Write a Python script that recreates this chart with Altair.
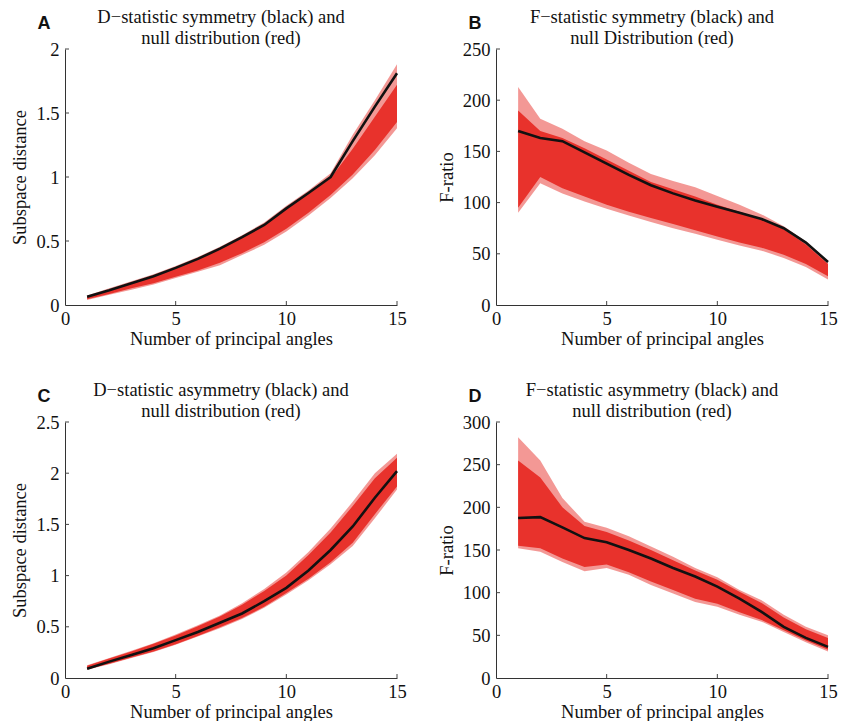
import altair as alt
import pandas as pd

angles = list(range(1, 16))

# Panel A: D-statistic symmetry
A_black = [0.065, 0.115, 0.17, 0.225, 0.29, 0.36, 0.44, 0.53, 0.625, 0.755, 0.875, 1.0, 1.28, 1.55, 1.81]
A_out_hi = [0.075, 0.13, 0.185, 0.24, 0.305, 0.375, 0.455, 0.545, 0.645, 0.775, 0.895, 1.03, 1.33, 1.6, 1.88]
A_out_lo = [0.04, 0.08, 0.12, 0.16, 0.21, 0.26, 0.31, 0.39, 0.47, 0.575, 0.70, 0.835, 0.99, 1.17, 1.38]
A_core_hi = [0.07, 0.12, 0.175, 0.23, 0.295, 0.365, 0.445, 0.535, 0.63, 0.76, 0.87, 0.99, 1.22, 1.47, 1.72]
A_core_lo = [0.045, 0.085, 0.13, 0.17, 0.22, 0.27, 0.33, 0.405, 0.49, 0.595, 0.72, 0.86, 1.02, 1.21, 1.43]

# Panel B: F-statistic symmetry
B_black = [170, 163, 160, 149, 138, 127, 117, 109, 102, 96, 90, 84, 75, 61, 42]
B_out_hi = [213, 182, 172, 160, 151, 139, 128, 121, 115, 106.5, 98, 88.5, 77, 62, 42.6]
B_out_lo = [90, 119, 109, 101, 94, 87.5, 81, 75, 69.5, 63.6, 58, 53, 46, 37, 25]
B_core_hi = [190, 170, 163, 153, 142, 131, 120, 113, 106, 98, 91, 84, 74, 59, 40]
B_core_lo = [95, 125, 114, 106, 98, 91, 85, 79, 73, 67, 61, 56, 49, 40, 28]

# Panel C: D-statistic asymmetry
C_black = [0.09, 0.16, 0.225, 0.29, 0.37, 0.45, 0.54, 0.63, 0.75, 0.88, 1.05, 1.25, 1.48, 1.76, 2.02]
C_out_hi = [0.125, 0.195, 0.265, 0.34, 0.425, 0.515, 0.61, 0.73, 0.87, 1.03, 1.23, 1.46, 1.72, 2.0, 2.19]
C_out_lo = [0.08, 0.135, 0.195, 0.255, 0.325, 0.405, 0.485, 0.575, 0.685, 0.815, 0.955, 1.11, 1.29, 1.56, 1.84]
C_core_hi = [0.12, 0.19, 0.26, 0.335, 0.415, 0.505, 0.6, 0.715, 0.85, 1.0, 1.2, 1.42, 1.68, 1.95, 2.15]
C_core_lo = [0.085, 0.14, 0.2, 0.26, 0.33, 0.41, 0.495, 0.585, 0.695, 0.83, 0.97, 1.13, 1.32, 1.6, 1.87]

# Panel D: F-statistic asymmetry
D_black = [187.5, 188.5, 176.5, 164, 159, 150, 140, 129, 119, 107, 93, 77.5, 60, 47, 36.5]
D_out_hi = [282, 255, 211, 183, 176, 166, 154, 142, 129, 118, 103, 91, 74, 60, 50]
D_out_lo = [152, 148, 136, 125, 129, 121, 109, 99, 89, 83.5, 74, 66, 54, 42, 31]
D_core_hi = [255, 235, 200, 178, 171, 161, 150, 138, 126, 115, 101, 88, 71, 57, 47]
D_core_lo = [155, 152, 140, 130, 133, 124, 113, 103, 93, 87, 77, 68, 56, 44, 33]

x_ticks = [0, 5, 10, 15]
A_yticks = [0, 0.5, 1, 1.5, 2]
B_yticks = [0, 50, 100, 150, 200, 250]
C_yticks = [0, 0.5, 1, 1.5, 2, 2.5]
D_yticks = [0, 50, 100, 150, 200, 250, 300]

RED = "#e8322c"
W, H = 332, 256
SERIF = "Liberation Serif"
FS = 18.5


def panel(letter, title, ytitle, yticks, black, ohi, olo, chi, clo):
    df = pd.DataFrame({"x": angles, "black": black, "ohi": ohi, "olo": olo,
                       "chi": chi, "clo": clo})
    xs = alt.Scale(domain=[0, 15], nice=False)
    ys = alt.Scale(domain=[yticks[0], yticks[-1]], nice=False)
    xax = alt.Axis(values=x_ticks, title="Number of principal angles", labelFlush=False, format="~r")
    yax = alt.Axis(values=yticks, title=ytitle, format="~r")
    base = alt.Chart(df)
    outer = base.mark_area(color=RED, opacity=0.5).encode(
        x=alt.X("x:Q", scale=xs, axis=xax),
        y=alt.Y("olo:Q", scale=ys, axis=yax),
        y2="ohi:Q")
    core = base.mark_area(color=RED, opacity=1).encode(
        x=alt.X("x:Q", scale=xs), y=alt.Y("clo:Q", scale=ys), y2="chi:Q")
    line = base.mark_line(color="#111111", strokeWidth=2.6).encode(
        x=alt.X("x:Q", scale=xs), y=alt.Y("black:Q", scale=ys))
    xt = alt.Chart(pd.DataFrame({"t": x_ticks[1:]})).mark_rule(color="#444", strokeWidth=1).encode(
        x=alt.X("t:Q", scale=xs), y=alt.value(H), y2=alt.value(H - 4))
    yt = alt.Chart(pd.DataFrame({"t": yticks[1:]})).mark_rule(color="#444", strokeWidth=1).encode(
        y=alt.Y("t:Q", scale=ys), x=alt.value(0), x2=alt.value(4))
    lab = alt.Chart(pd.DataFrame({"t": [letter]})).mark_text(
        font="Liberation Sans", fontWeight="bold", fontSize=18, color="#111",
        baseline="middle", align="center").encode(
        text="t:N", x=alt.value(-21), y=alt.value(-25.5))
    t1 = alt.Chart(pd.DataFrame({"t": [title[0]]})).mark_text(
        font=SERIF, fontSize=FS, color="#111", baseline="alphabetic", align="center").encode(
        text="t:N", x=alt.value(W / 2 - 10), y=alt.value(-26))
    t2 = alt.Chart(pd.DataFrame({"t": [title[1]]})).mark_text(
        font=SERIF, fontSize=FS, color="#111", baseline="alphabetic", align="center").encode(
        text="t:N", x=alt.value(W / 2 - 10), y=alt.value(-5))
    return alt.layer(outer, core, line, xt, yt, lab, t1, t2).properties(width=W, height=H)


pA = panel("A", ["D\u2212statistic symmetry (black) and", "null distribution (red)"],
           "Subspace distance", A_yticks, A_black, A_out_hi, A_out_lo, A_core_hi, A_core_lo)
pB = panel("B", ["F\u2212statistic symmetry (black) and", "null Distribution (red)"],
           "F-ratio", B_yticks, B_black, B_out_hi, B_out_lo, B_core_hi, B_core_lo)
pC = panel("C", ["D\u2212statistic asymmetry (black) and", "null distribution (red)"],
           "Subspace distance", C_yticks, C_black, C_out_hi, C_out_lo, C_core_hi, C_core_lo)
pD = panel("D", ["F\u2212statistic asymmetry (black) and", "null distribution (red)"],
           "F-ratio", D_yticks, D_black, D_out_hi, D_out_lo, D_core_hi, D_core_lo)

chart = alt.concat(pA, pB, pC, pD, columns=2,
                   spacing=alt.RowColnumber(row=33, column=30)).properties(
    padding={"left": 2, "top": 0, "right": 0, "bottom": 0})

chart = chart.configure_view(stroke=None).configure_axis(
    grid=False, ticks=False, domainColor="#333", domainWidth=1,
    labelFont=SERIF, labelFontSize=FS, labelColor="#111",
    titleFont=SERIF, titleFontSize=FS, titleFontWeight="normal", titleColor="#111",
).configure_axisX(labelPadding=4, titlePadding=2).configure_axisY(labelPadding=6, titlePadding=6)

chart.save("out.html", embed_options={"renderer": "svg", "actions": False})
